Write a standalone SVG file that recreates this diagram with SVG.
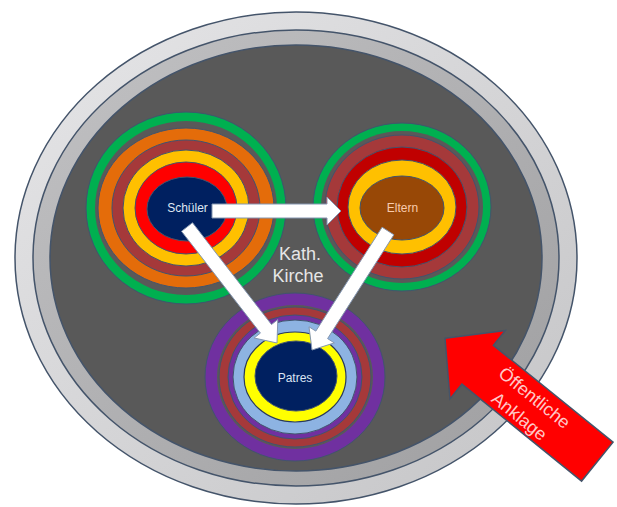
<svg xmlns="http://www.w3.org/2000/svg" width="617" height="507" viewBox="0 0 617 507">
  <style>
    .ring { stroke: #41546e; stroke-width: 1; }
    .gap { fill: #595959; stroke: none; }
    .arrow { fill: #ffffff; stroke: #8496b0; stroke-width: 1; }
    .lbl { font-family: "Liberation Sans", Arial, sans-serif; font-size: 12px; text-anchor: middle; }
    .big { font-family: "Liberation Sans", Arial, sans-serif; font-size: 18px; text-anchor: middle; fill: #e6e6e6; }
    .red { font-family: "Liberation Sans", Arial, sans-serif; font-size: 18px; text-anchor: middle; fill: #ffc9c9; }
  </style>
  <defs>
    <linearGradient id="band1" x1="0" y1="0" x2="1" y2="1">
      <stop offset="0" stop-color="#e6e6e8"/>
      <stop offset="1" stop-color="#c4c4c6"/>
    </linearGradient>
    <linearGradient id="band2" x1="0" y1="0" x2="1" y2="1">
      <stop offset="0" stop-color="#c2c2c4"/>
      <stop offset="1" stop-color="#9e9ea0"/>
    </linearGradient>
  </defs>
  <rect width="617" height="507" fill="#ffffff"/>

  <g id="kirche">
    <ellipse cx="296" cy="258" rx="281" ry="246" fill="url(#band1)" stroke="#44546a" stroke-width="1.5"/>
    <ellipse cx="296" cy="258" rx="263" ry="228" fill="url(#band2)" stroke="#44546a" stroke-width="1.5"/>
    <ellipse cx="296" cy="258" rx="246" ry="213" fill="#595959" stroke="#44546a" stroke-width="1.5"/>
    <text class="big" x="300" y="260">Kath.</text>
    <text class="big" x="298" y="282">Kirche</text>
  </g>

  <g id="schueler">
    <ellipse class="ring" cx="186" cy="208" rx="100" ry="96" fill="#00b050"/>
    <ellipse class="gap" cx="186" cy="208" rx="91" ry="87"/>
    <ellipse class="ring" cx="186" cy="208" rx="88" ry="80" fill="#e46c0a"/>
    <ellipse class="ring" cx="186" cy="208" rx="74" ry="68" fill="#a5393a"/>
    <ellipse class="ring" cx="186" cy="208" rx="63" ry="58" fill="#ffc000"/>
    <ellipse class="ring" cx="186" cy="208" rx="51" ry="46" fill="#ff0000"/>
    <ellipse class="ring" cx="187" cy="209" rx="40" ry="32" fill="#002060"/>
    <text class="lbl" x="187.5" y="211.5" fill="#dfe6f2">Schüler</text>
  </g>

  <g id="eltern">
    <ellipse class="ring" cx="402" cy="207" rx="89" ry="84" fill="#00b050"/>
    <ellipse class="gap" cx="402" cy="207" rx="81" ry="76"/>
    <ellipse class="ring" cx="402" cy="207" rx="77" ry="72" fill="#a5393a"/>
    <ellipse class="ring" cx="402" cy="207" rx="65" ry="60" fill="#c00000"/>
    <ellipse class="ring" cx="402" cy="207" rx="54" ry="47" fill="#ffc000"/>
    <ellipse class="ring" cx="402" cy="208" rx="42" ry="32" fill="#984806"/>
    <text class="lbl" x="402.5" y="212" fill="#f8cbad">Eltern</text>
  </g>

  <g id="patres">
    <ellipse class="ring" cx="295" cy="377" rx="90" ry="84" fill="#7030a0"/>
    <ellipse class="gap" cx="295" cy="377" rx="78" ry="72"/>
    <ellipse class="ring" cx="295" cy="377" rx="76" ry="70" fill="#a5393a"/>
    <ellipse class="ring" cx="295" cy="377" rx="67" ry="62" fill="#7030a0"/>
    <ellipse class="ring" cx="295" cy="377" rx="62" ry="57" fill="#8db3e2"/>
    <ellipse cx="295" cy="377" rx="51" ry="45" fill="#ffff00" stroke="#2a3a5a" stroke-width="1.2"/>
    <ellipse class="ring" cx="296" cy="376" rx="41" ry="35" fill="#002060"/>
    <text class="lbl" x="295" y="381.5" fill="#dae3f3">Patres</text>
  </g>

  <g id="connectors">
    <polygon class="arrow" points="212,204 327,204 327,197 341,211 327,225 327,218 212,218"/>
    <polygon class="arrow" points="192.5,222.7 271.5,324.5 277.8,319.6 277,343 254.1,338 260.4,333.1 181.5,231.3"/>
    <polygon class="arrow" points="393.9,234.8 327.6,338.6 334.3,342.9 312,350 309,326.8 315.8,331.1 382.1,227.2"/>
  </g>

  <g id="anklage" transform="translate(445 338.3) rotate(39)">
    <polygon points="0,0 42,-44 42,-25 196,-25 196,25 42,25 42,44" fill="#ff0000" stroke="#44546a" stroke-width="1.5"/>
    <text class="red" x="107" y="-4">Öffentliche</text>
    <text class="red" x="107" y="20">Anklage</text>
  </g>
</svg>
